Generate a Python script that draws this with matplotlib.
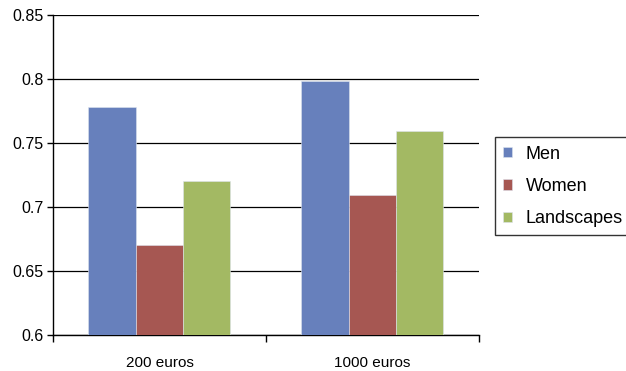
import numpy as np
import matplotlib.pyplot as plt

plt.rcParams['font.family'] = ['Liberation Sans', 'DejaVu Sans']

# data
categories = ['200 euros', '1000 euros']
men = [0.778, 0.798]
women = [0.670, 0.709]
landscapes = [0.720, 0.759]
series_names = ['Men', 'Women', 'Landscapes']
colors = ['#6780bc', '#a65752', '#a3b963']

fig = plt.figure(figsize=(6.26, 3.71), dpi=100)
ax = fig.add_axes([0.0847, 0.097, 0.68, 0.863])

x = np.arange(len(categories))
w = 2 / 9
for i, (vals, name, c) in enumerate(zip([men, women, landscapes], series_names, colors)):
    ax.bar(x + (i - 1) * w, vals, w, color=c, label=name, edgecolor='#dde3ee', linewidth=0.4, zorder=3)

ax.set_ylim(0.6, 0.85)
ax.set_xlim(-0.5, 1.5)
ax.set_yticks([0.6, 0.65, 0.7, 0.75, 0.8, 0.85])
ax.set_yticklabels(['0.6', '0.65', '0.7', '0.75', '0.8', '0.85'])
ax.yaxis.grid(True, color='black', linewidth=0.9, zorder=0)
ax.set_axisbelow(True)

# category boundary ticks on x axis
ax.set_xticks([-0.5, 0.5, 1.5])
ax.set_xticklabels([])
ax.set_xticks(x, minor=True)
ax.set_xticklabels(categories, minor=True, fontsize=11)
ax.tick_params(axis='x', which='minor', length=0, pad=15)
ax.tick_params(axis='x', which='major', length=5, width=1, direction='out')
ax.tick_params(axis='y', length=4.5, width=1, labelsize=11.5, pad=2)

ax.spines['top'].set_visible(False)
ax.spines['right'].set_visible(False)
ax.spines['left'].set_linewidth(1)
ax.spines['bottom'].set_linewidth(1)

leg = ax.legend(loc='center left', bbox_to_anchor=(1.038, 0.464), fontsize=13,
                frameon=True, fancybox=False, edgecolor='black', handlelength=0.5,
                handleheight=0.5, handletextpad=0.75, borderpad=0.45, labelspacing=0.85,
                borderaxespad=0)
leg.get_frame().set_linewidth(1)

fig.savefig('out.png', dpi=100)
